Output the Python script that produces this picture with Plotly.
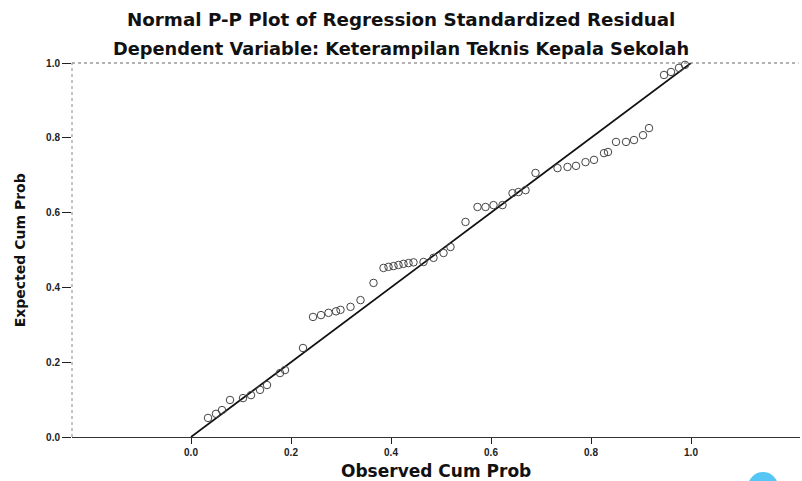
import plotly.graph_objects as go

# Observed cumulative probability (x) and expected cumulative probability (y)
observed = [0.034, 0.05, 0.062, 0.078, 0.104, 0.12, 0.138, 0.152, 0.178, 0.188, 0.224,
            0.244, 0.26, 0.275, 0.29, 0.299, 0.319, 0.339, 0.365,
            0.385, 0.395, 0.405, 0.415, 0.425, 0.435, 0.445, 0.465, 0.485, 0.505, 0.519,
            0.549, 0.573, 0.589, 0.605, 0.623, 0.643, 0.655, 0.669, 0.689,
            0.733, 0.753, 0.770, 0.789, 0.806, 0.826, 0.834, 0.85, 0.87, 0.886, 0.904, 0.916,
            0.946, 0.96, 0.976, 0.988]
expected = [0.051, 0.062, 0.072, 0.099, 0.104, 0.112, 0.126, 0.139, 0.171, 0.179, 0.238,
            0.321, 0.326, 0.332, 0.336, 0.34, 0.348, 0.366, 0.412,
            0.452, 0.455, 0.457, 0.46, 0.463, 0.465, 0.467, 0.468, 0.479, 0.492, 0.508,
            0.575, 0.615, 0.615, 0.62, 0.62, 0.652, 0.655, 0.66, 0.706,
            0.719, 0.722, 0.725, 0.735, 0.741, 0.759, 0.762, 0.789, 0.789, 0.794, 0.807, 0.826,
            0.968, 0.976, 0.987, 0.995]

diag_x = [0.0, 1.0]
diag_y = [0.0, 1.0]

tick_vals = [0.0, 0.2, 0.4, 0.6, 0.8, 1.0]
tick_text = ["0.0", "0.2", "0.4", "0.6", "0.8", "1.0"]

title1 = "Normal P-P Plot of Regression Standardized Residual"
title2 = "Dependent Variable: Keterampilan Teknis Kepala Sekolah"
x_title = "Observed Cum Prob"
y_title = "Expected Cum Prob"

FONT = "Liberation Sans, Arial, sans-serif"
WIDE = "DejaVu Sans, Verdana, sans-serif"

fig = go.Figure()
fig.add_trace(go.Scatter(x=diag_x, y=diag_y, mode="lines",
                         line=dict(color="#111111", width=1.7),
                         hoverinfo="skip", showlegend=False, cliponaxis=False))
fig.add_trace(go.Scatter(x=observed, y=expected, mode="markers",
                         marker=dict(symbol="circle-open", size=7.5, color="#444444",
                                     line=dict(color="#444444", width=1)),
                         showlegend=False, cliponaxis=False))

fig.update_layout(
    width=802, height=481,
    margin=dict(l=72, r=2, t=63, b=44),
    paper_bgcolor="white", plot_bgcolor="white",
    font=dict(family=FONT, color="#111111"),
    xaxis=dict(range=[-0.238, 1.218], tickvals=tick_vals, ticktext=tick_text,
               showgrid=False, zeroline=False, showline=True, linecolor="#333333",
               linewidth=1.2, ticks="outside", ticklen=6, tickcolor="#222222",
               tickfont=dict(size=10, color="#222222", weight="bold")),
    yaxis=dict(range=[0, 1.0], tickvals=tick_vals, ticktext=tick_text,
               showgrid=False, zeroline=False, showline=False,
               ticks="outside", ticklen=9, tickcolor="#222222",
               tickfont=dict(size=10, color="#222222", weight="bold")),
    annotations=[
        dict(text=title1, xref="paper", yref="paper", x=0.452, y=1.115,
             xanchor="center", yanchor="middle", showarrow=False,
             font=dict(family=WIDE, size=18.3, weight="bold", color="#111111")),
        dict(text=title2, xref="paper", yref="paper", x=0.452, y=1.040,
             xanchor="center", yanchor="middle", showarrow=False,
             font=dict(family=WIDE, size=17.8, weight="bold", color="#111111")),
        dict(text=x_title, xref="paper", yref="paper", x=0.5, y=-0.09,
             xanchor="center", yanchor="middle", showarrow=False,
             font=dict(family=WIDE, size=17, weight="bold", color="#111111")),
        dict(text=y_title, xref="paper", yref="paper", x=-0.071, y=0.5,
             xanchor="center", yanchor="middle", showarrow=False, textangle=-90,
             font=dict(family=WIDE, size=14, weight="bold", color="#111111")),
    ],
    shapes=[
        dict(type="line", xref="paper", yref="paper", x0=0, x1=0.998, y0=1, y1=1,
             line=dict(color="#666666", width=1, dash="dot")),
        dict(type="line", xref="paper", yref="paper", x0=0, x1=0, y0=0, y1=1,
             line=dict(color="#888888", width=1, dash="dot")),
        dict(type="circle", xref="paper", yref="paper",
             x0=0.9286, x1=0.9698, y0=-0.1738, y1=-0.0936,
             fillcolor="#55C6F5", line=dict(width=0), layer="above"),
    ],
)

fig.write_html("out.html")
